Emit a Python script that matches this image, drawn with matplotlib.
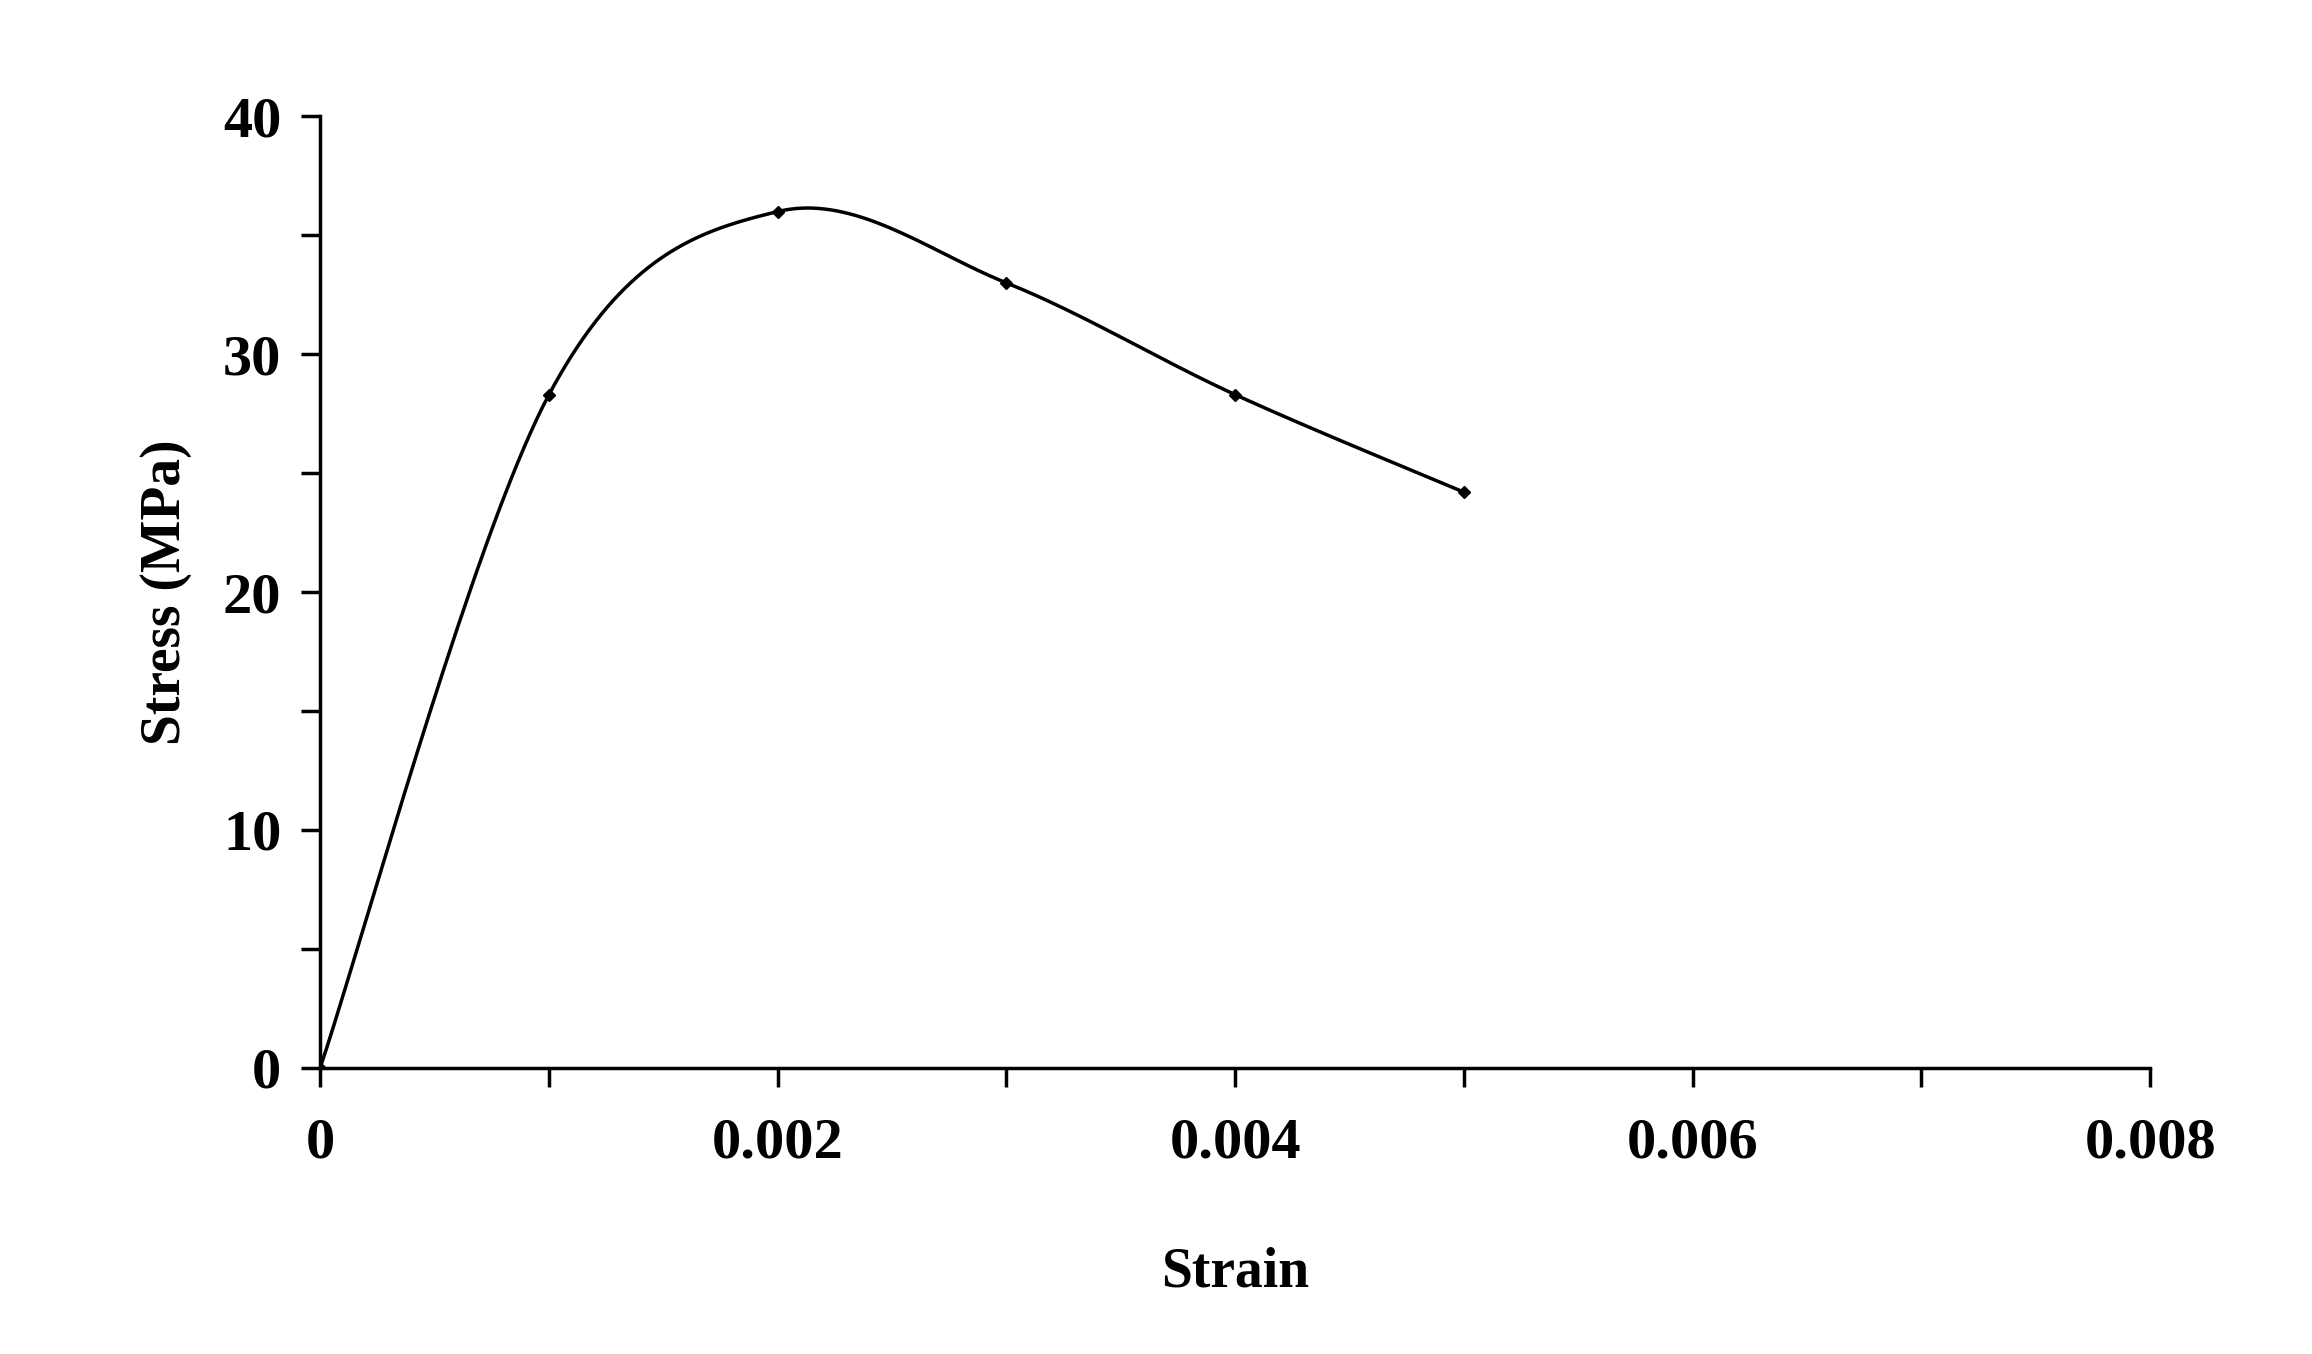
import numpy as np
import matplotlib.pyplot as plt

strain = [0, 0.001, 0.002, 0.003, 0.004, 0.005]
stress = [0, 28.3, 36.0, 33.0, 28.3, 24.2]


def smooth(xs, ys, n=40):
    # Excel-like smoothed line (Catmull-Rom / cubic Bezier through the points)
    p = np.column_stack([xs, ys]).astype(float)
    out = []
    for i in range(len(p) - 1):
        p0 = p[i - 1] if i > 0 else p[i]
        p1, p2 = p[i], p[i + 1]
        p3 = p[i + 2] if i + 2 < len(p) else p[i + 1]
        c1 = p1 + (p2 - p0) / 6
        c2 = p2 - (p3 - p1) / 6
        t = np.linspace(0, 1, n)[:, None]
        seg = (1 - t) ** 3 * p1 + 3 * (1 - t) ** 2 * t * c1 + 3 * (1 - t) * t ** 2 * c2 + t ** 3 * p2
        out.append(seg)
    s = np.vstack(out)
    return s[:, 0], s[:, 1]


plt.rcParams['font.family'] = ['Liberation Serif', 'DejaVu Serif']
fig = plt.figure(figsize=(23.12, 13.54), dpi=100)
ax = fig.add_axes([0.1385, 0.2115, 0.7915, 0.7025])

sx, sy = smooth(strain, stress)
ax.plot(sx, sy, color='black', lw=2.5)
ax.plot(strain, stress, 'D', color='black', ms=6)

ax.set_xlim(0, 0.008)
ax.set_ylim(0, 40)
ax.set_xticks([0, 0.002, 0.004, 0.006, 0.008])
ax.set_xticklabels(['0', '0.002', '0.004', '0.006', '0.008'])
ax.set_xticks(np.arange(0, 0.0081, 0.001), minor=True)
ax.set_yticks([0, 10, 20, 30, 40])
ax.set_yticks(np.arange(0, 41, 5), minor=True)
for sp in ['top', 'right']:
    ax.spines[sp].set_visible(False)
for sp in ['left', 'bottom']:
    ax.spines[sp].set_linewidth(2.5)
ax.tick_params(which='both', direction='out', width=2.5, length=14, labelsize=42)
ax.tick_params(axis='x', pad=22)
ax.tick_params(axis='y', pad=14)
for lab in ax.get_xticklabels() + ax.get_yticklabels():
    lab.set_fontweight('bold')
ax.set_xlabel('Strain', fontsize=40, fontweight='bold', labelpad=55)
ax.set_ylabel('Stress (MPa)', fontsize=40, fontweight='bold', labelpad=22)

fig.savefig('out.png', dpi=100)
